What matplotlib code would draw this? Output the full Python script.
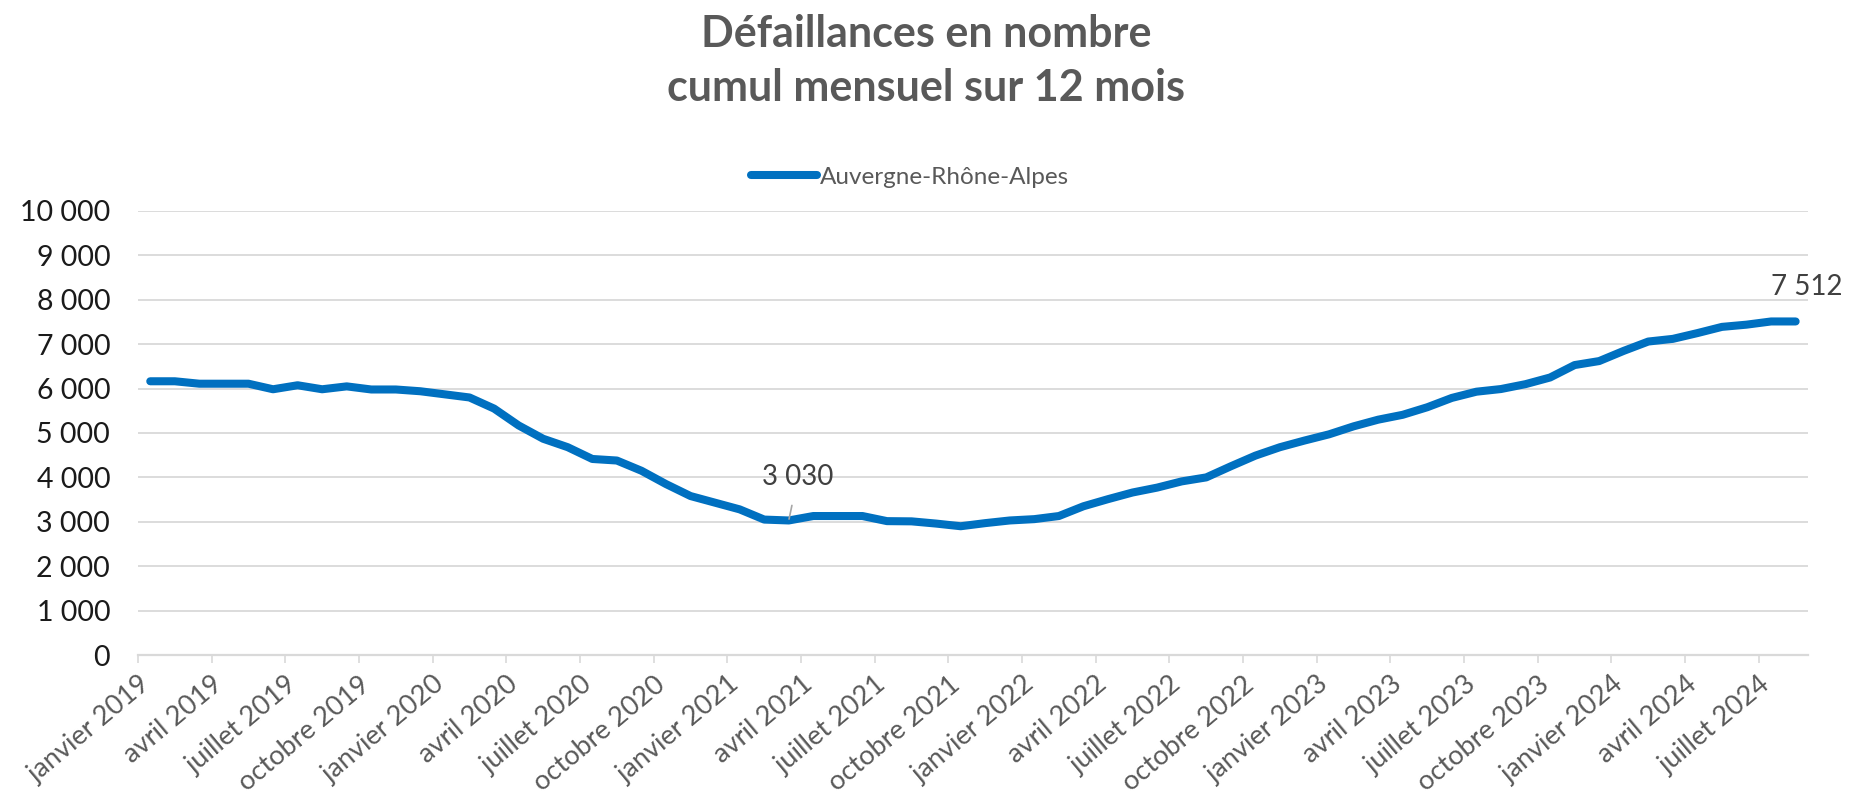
import matplotlib
matplotlib.use('Agg')
import matplotlib.pyplot as plt
import numpy as np

plt.rcParams['font.family'] = ['Lato', 'DejaVu Sans']

# monthly values, janvier 2019 -> août 2024
mois = ['janvier', 'février', 'mars', 'avril', 'mai', 'juin', 'juillet',
        'août', 'septembre', 'octobre', 'novembre', 'décembre']
annees = [2019, 2020, 2021, 2022, 2023, 2024]
categories = [f'{m} {a}' for a in annees for m in mois][:68]

serie_nom = 'Auvergne-Rhône-Alpes'
valeurs = [
    6165, 6165, 6110, 6110, 6110, 5985, 6075, 5985, 6050, 5980, 5980, 5940,  # 2019
    5870, 5800, 5550, 5170, 4870, 4680, 4415, 4380, 4150, 3850, 3580, 3430,  # 2020
    3280, 3050, 3030, 3130, 3130, 3130, 3015, 3010, 2960, 2900, 2970, 3030,  # 2021
    3060, 3130, 3350, 3510, 3660, 3770, 3910, 4000, 4250, 4490, 4680, 4830,  # 2022
    4970, 5150, 5300, 5410, 5580, 5790, 5930, 5990, 6100, 6250, 6530, 6620,  # 2023
    6850, 7060, 7120, 7250, 7390, 7440, 7512, 7512,                          # 2024
]
y_ticks = list(range(0, 10001, 1000))
labels_idx = [26, 67]  # points with data labels (3 030 and 7 512)

fig = plt.figure(figsize=(18.52, 7.95), dpi=100)
ax = fig.add_axes([0.0745, 0.1761, 0.9017, 0.5585])

x = np.arange(len(valeurs))
ax.plot(x, valeurs, color='#0070C0', lw=5.8, solid_capstyle='round',
        solid_joinstyle='round', label=serie_nom, zorder=3)

ax.set_xlim(-0.5, len(valeurs) - 0.5)
ax.set_ylim(0, 10000)
ax.set_yticks(y_ticks)
ax.set_yticklabels([f'{v:,}'.replace(',', ' ') for v in y_ticks])
ax.grid(axis='y', color='#d9d9d9', lw=1.3)
ax.set_axisbelow(True)

# ticks at category boundaries, every 3 months
tick_pos = np.arange(0, len(valeurs), 3) - 0.5
ax.set_xticks(tick_pos)
ax.set_xticklabels([categories[i] for i in range(0, len(valeurs), 3)],
                   rotation=40, ha='right', va='top', rotation_mode='anchor')

for s in ['top', 'right', 'left']:
    ax.spines[s].set_visible(False)
ax.spines['bottom'].set_color('#d9d9d9')
ax.spines['bottom'].set_linewidth(1.6)
ax.tick_params(axis='y', length=0, pad=20, labelsize=20.5, labelcolor='#1a1a1a')
ax.tick_params(axis='x', length=6, width=1.2, color='#d9d9d9', pad=6,
               labelsize=19.5, labelcolor='#595959')

# data labels
ax.annotate(f'{valeurs[labels_idx[0]]:,}'.replace(',', ' '),
            xy=(labels_idx[0], valeurs[labels_idx[0]]), xytext=(6.5, 31),
            textcoords='offset points', ha='center', va='center',
            fontsize=20, color='#404040',
            arrowprops=dict(arrowstyle='-', color='#a6a6a6', lw=1.2,
                            shrinkA=9, shrinkB=1))
ax.annotate(f'{valeurs[labels_idx[1]]:,}'.replace(',', ' '),
            xy=(labels_idx[1], valeurs[labels_idx[1]]), xytext=(8, 25),
            textcoords='offset points', ha='center', va='center',
            fontsize=20, color='#404040', annotation_clip=False)

fig.text(0.5, 1 - 61 / 795, 'Défaillances en nombre\ncumul mensuel sur 12 mois',
         ha='center', va='center', fontsize=31, fontweight='bold',
         color='#595959', linespacing=1.45)

ax.legend(loc='center', bbox_to_anchor=(0.4914, 1 - 177 / 795),
          bbox_transform=fig.transFigure, frameon=False, fontsize=17.5,
          handlelength=2.7, handletextpad=0.1, labelcolor='#595959')

fig.savefig('out.png', dpi=100)
